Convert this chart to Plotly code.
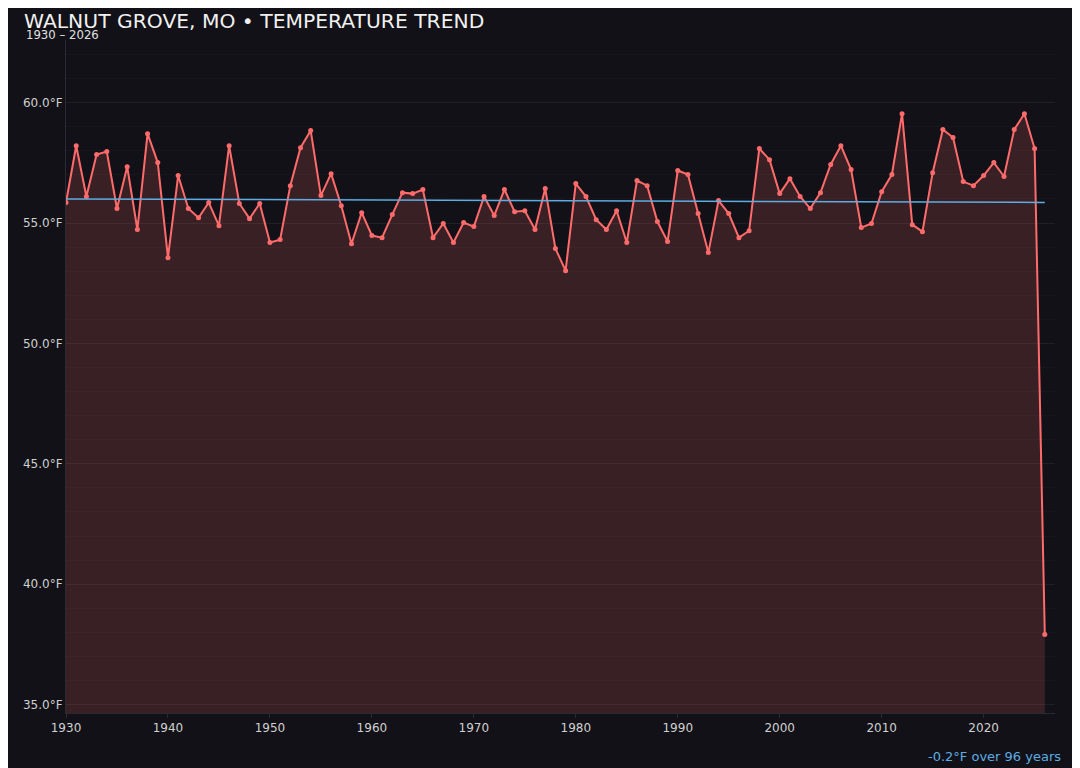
import numpy as np
import plotly.graph_objects as go

years = list(range(1930, 2027))
temps = [
    55.85, 58.21, 56.10, 57.84, 57.97, 55.60, 57.34, 54.73, 58.71, 57.51,
    53.56, 56.97, 55.60, 55.22, 55.85, 54.89, 58.21, 55.81, 55.18, 55.81,
    54.19, 54.31, 56.55, 58.13, 58.84, 56.14, 57.05, 55.72, 54.14, 55.43,
    54.48, 54.39, 55.35, 56.26, 56.22, 56.39, 54.39, 54.98, 54.19, 55.02,
    54.85, 56.10, 55.31, 56.39, 55.47, 55.51, 54.73, 56.43, 53.94, 53.02,
    56.64, 56.10, 55.14, 54.73, 55.51, 54.19, 56.76, 56.55, 55.06, 54.23,
    57.18, 57.01, 55.39, 53.77, 55.93, 55.39, 54.39, 54.68, 58.09, 57.63,
    56.22, 56.84, 56.10, 55.60, 56.26, 57.43, 58.21, 57.22, 54.81, 54.98,
    56.30, 57.01, 59.54, 54.93, 54.64, 57.09, 58.88, 58.55, 56.72, 56.55,
    56.97, 57.51, 56.93, 58.88, 59.54, 58.09, 37.91,
]
y_ticks = [35, 40, 45, 50, 55, 60]
x_ticks = [1930, 1940, 1950, 1960, 1970, 1980, 1990, 2000, 2010, 2020]
trend_label = '-0.2°F over 96 years'

BG = '#121117'
LINE = '#ff6b6b'
TREND = '#5dade2'

# linear trend over the full record
slope, intercept = np.polyfit(years, temps, 1)
trend = [slope * y + intercept for y in years]

# plot area in page pixels (page has an 8px body offset)
L, R, T, B = 58, 1047, 32, 705
PW, PH = R - L, B - T

fig = go.Figure()

fig.add_trace(go.Scatter(
    x=years, y=temps, mode='lines+markers',
    line=dict(color=LINE, width=2),
    marker=dict(color=LINE, size=5),
    fill='tozeroy', fillcolor='rgba(255,107,107,0.17)',
    showlegend=False,
    hovertemplate='%{x}: %{y:.1f}°F<extra></extra>'
))

fig.add_trace(go.Scatter(
    x=[years[0], years[-1]], y=[trend[0], trend[-1]], mode='lines',
    line=dict(color=TREND, width=1.5),
    showlegend=False, hoverinfo='skip'
))

fig.update_xaxes(
    range=[1930, 2027], tickvals=x_ticks,
    showgrid=False, showline=True, linecolor='#2a2a33', linewidth=1,
    ticks='outside', ticklen=4, tickcolor='#2a2a33',
    tickfont=dict(color='#d0d0d0', size=12), zeroline=False
)
fig.update_yaxes(
    range=[34.65, 62.6], tickvals=y_ticks,
    ticktext=[f'{v:.1f}°F' for v in y_ticks],
    showgrid=True, gridcolor='rgba(255,255,255,0.04)',
    minor=dict(dtick=1, showgrid=True, gridcolor='rgba(255,255,255,0.025)'),
    showline=True, linecolor='#2a2a33', linewidth=1,
    tickfont=dict(color='#d0d0d0', size=12), zeroline=False
)

fig.update_layout(
    width=1080, height=768,
    paper_bgcolor=BG, plot_bgcolor=BG,
    font=dict(family='DejaVu Sans', color='#e0e0e0'),
    margin=dict(l=L, r=1080 - R, t=T, b=768 - B),
    title=dict(
        text='WALNUT GROVE, MO • TEMPERATURE TREND',
        font=dict(size=20.3, color='#f0f0f0'),
        x=16 / 1080, xanchor='left', y=1 - 13 / 768, yanchor='middle'
    ),
    annotations=[
        dict(text=f'{years[0]} – {years[-1]}', xref='paper', yref='paper',
             x=(16 - L) / PW, y=1 + 5 / PH, xanchor='left', yanchor='middle',
             showarrow=False, font=dict(size=11.7, color='#e0e0e0')),
        dict(text=trend_label, xref='paper', yref='paper',
             x=(1055 - L) / PW, y=(B - 748) / PH, xanchor='right', yanchor='middle',
             showarrow=False, font=dict(size=13, color=TREND)),
    ]
)

fig.write_html('out.html')
